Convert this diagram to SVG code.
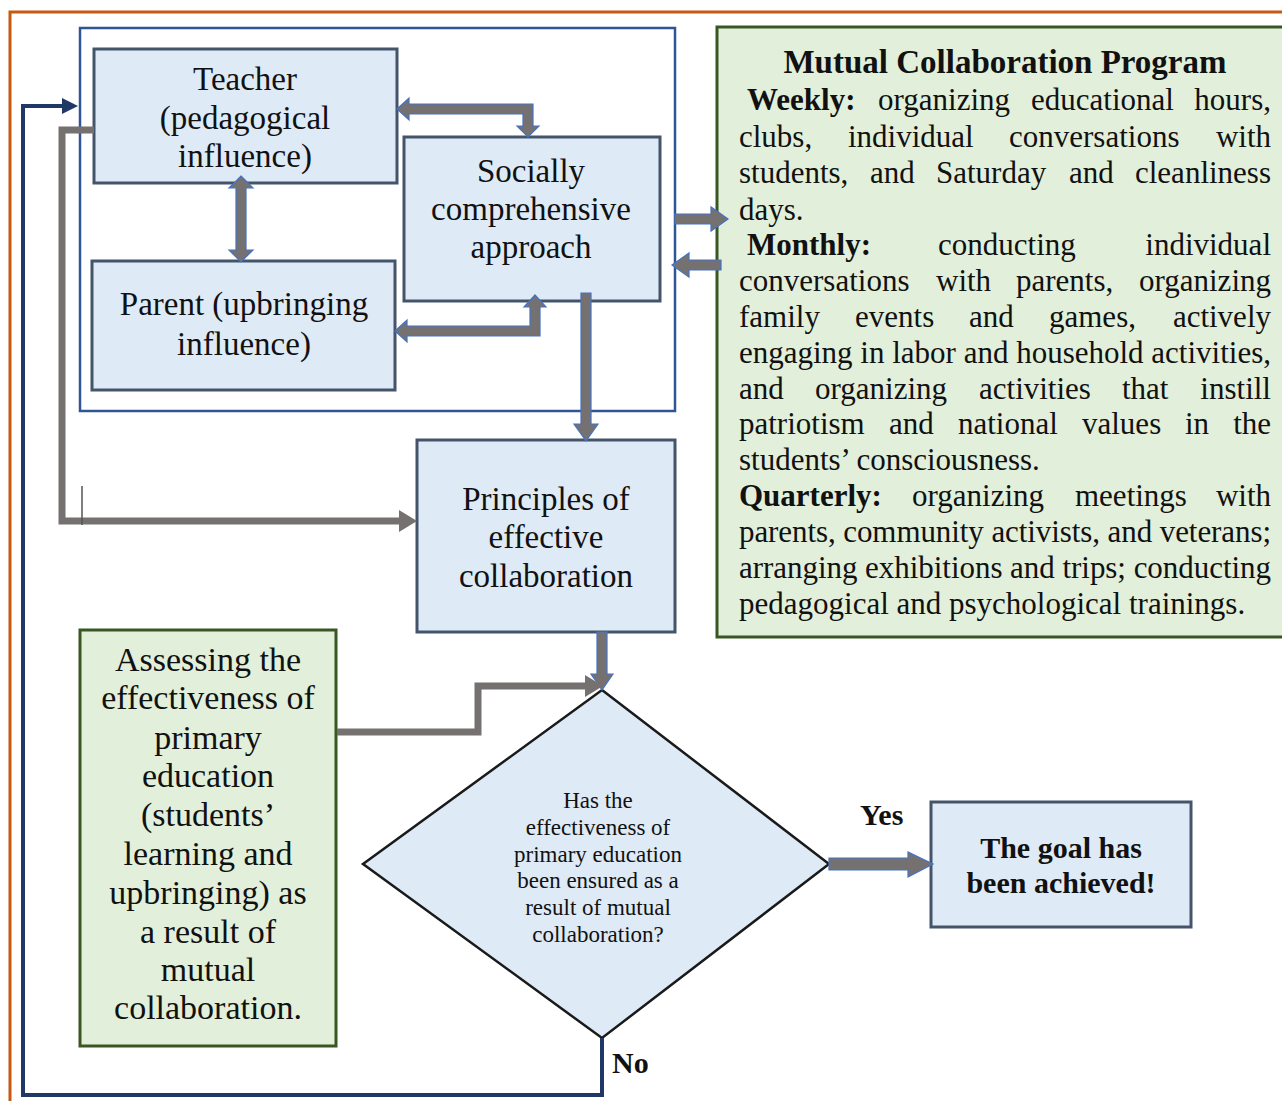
<svg xmlns="http://www.w3.org/2000/svg" width="1282" height="1101" viewBox="0 0 1282 1101">
<style>
text{font-family:"Liberation Serif","Times New Roman",serif;fill:#111;}
.box{fill:#deeaf6;stroke:#44546a;stroke-width:3;}
.gbox{fill:#e2efda;stroke:#385723;stroke-width:3;}
.t33{font-size:33px;text-anchor:middle;}
.t34{font-size:34px;text-anchor:middle;}
.t23{font-size:23px;text-anchor:middle;}
.b30{font-size:30px;font-weight:bold;}
.bd{font-size:31px;}
.bb{font-weight:bold;}
.e{text-anchor:end;}
.blk{fill:#767171;stroke:#4472c4;stroke-width:1.2;stroke-linejoin:miter;}
.gl{fill:none;stroke:#767171;stroke-width:7;}
.nl{fill:none;stroke:#203864;stroke-width:4;}
</style>
<defs>
<marker id="ahg" markerUnits="userSpaceOnUse" viewBox="0 0 18 22" markerWidth="18" markerHeight="22" refX="8" refY="11" orient="auto"><path d="M0,0 L18,11 L0,22 z" fill="#767171"/></marker>
<marker id="ahn" markerUnits="userSpaceOnUse" viewBox="0 0 16 16" markerWidth="16" markerHeight="16" refX="8" refY="8" orient="auto"><path d="M0,0 L16,8 L0,16 z" fill="#203864"/></marker>
</defs>
<rect width="1282" height="1101" fill="#fff"/>
<path d="M10,1101 V12 H1282" fill="none" stroke="#c55a11" stroke-width="3"/>
<g id="container"><rect x="80" y="28" width="595" height="383" fill="none" stroke="#2f5597" stroke-width="2.5"/></g>
<g id="teacher"><rect class="box" x="94" y="49" width="303" height="134"/>
<text class="t33" x="245" y="90">Teacher</text><text class="t33" x="245" y="129">(pedagogical</text><text class="t33" x="245" y="167">influence)</text></g>
<g id="parent"><rect class="box" x="92" y="261" width="303" height="129"/>
<text class="t33" x="244" y="315">Parent (upbringing</text><text class="t33" x="244" y="355">influence)</text></g>
<g id="social"><rect class="box" x="404" y="137" width="256" height="164"/>
<text class="t33" x="531" y="182">Socially</text><text class="t33" x="531" y="220">comprehensive</text><text class="t33" x="531" y="258">approach</text></g>
<g id="principles"><rect class="box" x="417" y="440" width="258" height="192"/>
<text class="t33" x="546" y="510">Principles of</text><text class="t33" x="546" y="548">effective</text><text class="t33" x="546" y="587">collaboration</text></g>
<g id="program"><rect class="gbox" x="717" y="27" width="600" height="610"/>
<text x="1005" y="73" style="font-size:33px;font-weight:bold;text-anchor:middle">Mutual Collaboration Program</text>
<g class="bd">
<text x="747" y="110" class="bb">Weekly:</text><text x="878" y="110">organizing</text><text x="1031" y="110">educational</text><text x="1271" y="110" class="e">hours,</text>
<text x="739" y="147">clubs,</text><text x="848" y="147">individual</text><text x="1009" y="147">conversations</text><text x="1271" y="147" class="e">with</text>
<text x="739" y="183">students,</text><text x="870" y="183">and</text><text x="936" y="183">Saturday</text><text x="1069" y="183">and</text><text x="1271" y="183" class="e">cleanliness</text>
<text x="739" y="220">days.</text>
<text x="747" y="255" class="bb">Monthly:</text><text x="938" y="255">conducting</text><text x="1271" y="255" class="e">individual</text>
<text x="739" y="291">conversations</text><text x="936" y="291">with</text><text x="1016" y="291">parents,</text><text x="1271" y="291" class="e">organizing</text>
<text x="739" y="327">family</text><text x="855" y="327">events</text><text x="969" y="327">and</text><text x="1049" y="327">games,</text><text x="1271" y="327" class="e">actively</text>
<text x="739" y="363" textLength="532" lengthAdjust="spacing">engaging in labor and household activities,</text>
<text x="739" y="399">and</text><text x="815" y="399">organizing</text><text x="979" y="399">activities</text><text x="1122" y="399">that</text><text x="1271" y="399" class="e">instill</text>
<text x="739" y="434">patriotism</text><text x="889" y="434">and</text><text x="958" y="434">national</text><text x="1082" y="434">values</text><text x="1185" y="434">in</text><text x="1271" y="434" class="e">the</text>
<text x="739" y="470">students’ consciousness.</text>
<text x="739" y="506" class="bb">Quarterly:</text><text x="912" y="506">organizing</text><text x="1075" y="506">meetings</text><text x="1271" y="506" class="e">with</text>
<text x="739" y="542" textLength="532" lengthAdjust="spacing">parents, community activists, and veterans;</text>
<text x="739" y="578" textLength="532" lengthAdjust="spacing">arranging exhibitions and trips; conducting</text>
<text x="739" y="614">pedagogical and psychological trainings.</text>
</g></g>
<g id="assessing"><rect class="gbox" x="80" y="630" width="256" height="416"/>
<text class="t34" x="208" y="671">Assessing the</text><text class="t34" x="208" y="709">effectiveness of</text><text class="t34" x="208" y="749">primary</text><text class="t34" x="208" y="787">education</text><text class="t34" x="208" y="826">(students’</text><text class="t34" x="208" y="865">learning and</text><text class="t34" x="208" y="904">upbringing) as</text><text class="t34" x="208" y="943">a result of</text><text class="t34" x="208" y="981">mutual</text><text class="t34" x="208" y="1019">collaboration.</text></g>
<g id="decision"><polygon points="602,690 829,864 602,1038 363,864" fill="#deeaf6" stroke="#1a1a1a" stroke-width="2.5"/>
<text class="t23" x="598" y="808">Has the</text><text class="t23" x="598" y="835">effectiveness of</text><text class="t23" x="598" y="862">primary education</text><text class="t23" x="598" y="888">been ensured as a</text><text class="t23" x="598" y="915">result of mutual</text><text class="t23" x="598" y="942">collaboration?</text></g>
<g id="goal"><rect class="box" x="931" y="802" width="260" height="125"/>
<text class="b30" x="1061" y="858" text-anchor="middle">The goal has</text><text class="b30" x="1061" y="893" text-anchor="middle">been achieved!</text></g>
<g id="connectors">
<polygon class="blk" points="397,109 409,98 409,104 533,104 533,126 539,126 528,137 517,126 523,126 523,114 409,114 409,120"/>
<polygon class="blk" points="241,176 253,188 246,188 246,250 253,250 241,262 229,250 236,250 236,188 229,188"/>
<polygon class="blk" points="395,331 407,320 407,326 530,326 530,307 524,307 535,295 546,307 540,307 540,336 407,336 407,342"/>
<polygon class="blk" points="581,293 591,293 591,424 598,424 586,441 574,424 581,424"/>
<polygon class="blk" points="675,214 711,214 711,207 728,219 711,231 711,224 675,224"/>
<polygon class="blk" points="721,260 689,260 689,253 672,265 689,277 689,270 721,270"/>
<polygon class="blk" points="597,632 607,632 607,674 613,674 602,690 591,674 597,674"/>
<polygon class="blk" points="829,858 908,858 908,852 933,864 908,877 908,870 829,870"/>
<path class="gl" d="M94,130 H62 V521 H407" marker-end="url(#ahg)"/>
<path class="gl" d="M337,732 H478 V686 H593" marker-end="url(#ahg)"/>
<path d="M82,486 V525" stroke="#555" stroke-width="1.5"/>
<path class="nl" d="M602,1038 V1095 H23 V106 H70" marker-end="url(#ahn)"/>
<text class="b30" x="860" y="825">Yes</text>
<text class="b30" x="612" y="1073">No</text>
</g>
</svg>
